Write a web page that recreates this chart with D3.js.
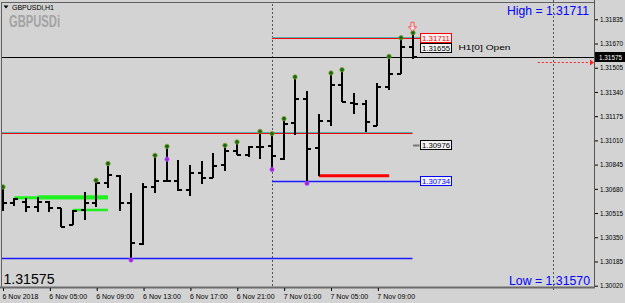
<!DOCTYPE html>
<html>
<head>
<meta charset="utf-8">
<script src="https://cdnjs.cloudflare.com/ajax/libs/d3/7.8.5/d3.min.js"></script>
<style>
  body { margin: 0; background: #d3d3d3; }
  svg { display: block; }
  text { font-family: "Liberation Sans", Arial, sans-serif; }
</style>
</head>
<body>
<div id="chart"></div>
<script>
// H1 bars, 6 Nov 01:00 .. 7 Nov 12:00
const opens  = [1.30600, 1.30581, 1.30592, 1.30554, 1.30588, 1.30547, 1.30431, 1.30535, 1.30581, 1.30717, 1.30767, 1.30581,
                1.30304, 1.30694, 1.30731, 1.30733, 1.30671, 1.30789, 1.30755, 1.30842, 1.30939, 1.30910, 1.30966, 1.30973,
                1.30882, 1.31130, 1.31289, 1.30955, 1.31143, 1.31386, 1.31266, 1.31255, 1.31107, 1.31375, 1.31459, 1.31647];
const highs  = [1.30683, 1.30615, 1.30619, 1.30626, 1.30599, 1.30547, 1.30535, 1.30660, 1.30728, 1.30842, 1.30774, 1.30649,
                1.30721, 1.30898, 1.30959, 1.30876, 1.30842, 1.30871, 1.30921, 1.30966, 1.30989, 1.30973, 1.31061, 1.31046,
                1.31148, 1.31432, 1.31345, 1.31187, 1.31459, 1.31481, 1.31334, 1.31284, 1.31398, 1.31572, 1.31699, 1.31733];
const lows   = [1.30531, 1.30563, 1.30522, 1.30524, 1.30524, 1.30422, 1.30431, 1.30467, 1.30558, 1.30683, 1.30531, 1.30195,
                1.30297, 1.30653, 1.30728, 1.30665, 1.30633, 1.30712, 1.30751, 1.30801, 1.30910, 1.30898, 1.30880, 1.30812,
                1.30876, 1.31046, 1.30710, 1.30767, 1.31109, 1.31272, 1.31191, 1.31068, 1.31107, 1.31352, 1.31459, 1.31563];
const closes = [1.30581, 1.30608, 1.30554, 1.30592, 1.30547, 1.30422, 1.30531, 1.30583, 1.30717, 1.30774, 1.30581, 1.30309,
                1.30690, 1.30731, 1.30733, 1.30671, 1.30789, 1.30755, 1.30837, 1.30939, 1.30912, 1.30966, 1.30966, 1.30905,
                1.31123, 1.31289, 1.30951, 1.31143, 1.31386, 1.31272, 1.31259, 1.31136, 1.31371, 1.31459, 1.31647, 1.31575];

const upMarks = [0, 8, 9, 13, 14, 19, 20, 22, 23, 24, 25, 28, 29, 33, 34, 35];
const downMarks = [[11, 1.30195], [14, 1.30882], [23, 1.30812], [26, 1.30717]];

const timeTickBars = [0, 4, 8, 12, 16, 20, 24, 28, 32];
const timeLabels = ["6 Nov 2018", "6 Nov 05:00", "6 Nov 09:00", "6 Nov 13:00", "6 Nov 17:00",
                    "6 Nov 21:00", "7 Nov 01:00", "7 Nov 05:00", "7 Nov 09:00"];
const priceTicks = [1.30020, 1.30185, 1.30350, 1.30515, 1.30680, 1.30845, 1.31010, 1.31175, 1.31340, 1.31505, 1.31670, 1.31835];

const lastPrice = 1.31575;
const dayHigh = 1.31711;
const dayLow = 1.31570;
const openPrice = 1.31655;
const daySeparator = 23;
const shiftBar = 47;
// [price, from bar, to bar]
const redLevels = [[1.31711, 23, 35.7], [1.31059, -0.3, 35]];
const blueLevels = [[1.30734, 23, 35.7], [1.30209, -0.3, 35]];
const greenLevels = [[1.30619, 1, 9, 3], [1.30622, 3, 9, 4], [1.30535, 6, 9, 2.5]];
const redBar = [1.30769, 27, 33];
const priceTags = [[1.31711, "#ff0000"], [1.31655, "#000000"], [1.30976, "#000000"], [1.30734, "#0000ff"]];
const askLine = [1.31545, 45.7];

const W = 625, H = 303;
const plotRight = 594, plotBottom = 287;

const x = d3.scaleLinear().domain([0, 35]).range([2.5, 412.5]);
const y = d3.scaleLinear().domain([1.30020, 1.31835]).range([285.7, 19.3]);
const fmt = d3.format(".5f");
const rx = i => Math.round(x(i)) + 0.5;
const ry = p => Math.round(y(p)) + 0.5;

const svg = d3.select("#chart").append("svg").attr("width", W).attr("height", H);
svg.append("rect").attr("width", W).attr("height", H).attr("fill", "#d3d3d3");

const plot = svg.append("g");
plot.append("clipPath").attr("id", "clip").append("rect")
  .attr("x", 1).attr("y", 2).attr("width", plotRight - 1).attr("height", plotBottom - 2);
const g = plot.append("g").attr("clip-path", "url(#clip)");

// separators
g.append("line").attr("x1", rx(daySeparator)).attr("x2", rx(daySeparator)).attr("y1", 0).attr("y2", plotBottom)
  .attr("stroke", "#555").attr("stroke-dasharray", "2,2");
svg.append("line").attr("x1", rx(shiftBar)).attr("x2", rx(shiftBar)).attr("y1", 0).attr("y2", plotBottom + 3)
  .attr("stroke", "#555").attr("stroke-dasharray", "2,2");

// levels
redLevels.forEach(([p, a, b]) => {
  g.append("line").attr("x1", x(a)).attr("x2", x(b)).attr("y1", ry(p) - 1).attr("y2", ry(p) - 1)
    .attr("stroke", "#4fb8b8").attr("stroke-width", 1);
  g.append("line").attr("x1", x(a)).attr("x2", x(b)).attr("y1", ry(p)).attr("y2", ry(p))
    .attr("stroke", "#ff0000").attr("stroke-width", 1);
});
blueLevels.forEach(([p, a, b]) => {
  g.append("line").attr("x1", x(a)).attr("x2", x(b)).attr("y1", ry(p)).attr("y2", ry(p))
    .attr("stroke", "#1a1aff").attr("stroke-width", 1.4);
});
greenLevels.forEach(([p, a, b, w]) => {
  g.append("line").attr("x1", x(a)).attr("x2", x(b)).attr("y1", y(p)).attr("y2", y(p))
    .attr("stroke", "#1ff01f").attr("stroke-width", w);
});
g.append("line").attr("x1", x(redBar[1])).attr("x2", x(redBar[2])).attr("y1", y(redBar[0])).attr("y2", y(redBar[0]))
  .attr("stroke", "#ff0000").attr("stroke-width", 3);

// last price line
g.append("line").attr("x1", 0).attr("x2", plotRight).attr("y1", ry(lastPrice)).attr("y2", ry(lastPrice))
  .attr("stroke", "#000").attr("stroke-width", 1);

// ask dotted line with arrow
svg.append("line").attr("x1", x(askLine[1])).attr("x2", plotRight - 3).attr("y1", ry(askLine[0])).attr("y2", ry(askLine[0]))
  .attr("stroke", "#ff2020").attr("stroke-dasharray", "2,2");
svg.append("path")
  .attr("d", `M${plotRight - 4},${ry(askLine[0]) - 3}L${plotRight},${ry(askLine[0])}L${plotRight - 4},${ry(askLine[0]) + 3}Z`)
  .attr("fill", "#ff2020");

// bars
const bars = opens.map((o, i) => ({ i, o, h: highs[i], l: lows[i], c: closes[i] }));
const bg = g.append("g").attr("stroke", "#000").attr("stroke-width", 2).attr("shape-rendering", "crispEdges");
bg.selectAll("line.hl").data(bars).join("line").attr("class", "hl")
  .attr("x1", d => Math.round(x(d.i))).attr("x2", d => Math.round(x(d.i)))
  .attr("y1", d => y(d.h)).attr("y2", d => y(d.l));
bg.selectAll("line.o").data(bars).join("line").attr("class", "o")
  .attr("x1", d => Math.round(x(d.i)) - 4).attr("x2", d => Math.round(x(d.i)))
  .attr("y1", d => Math.round(y(d.o))).attr("y2", d => Math.round(y(d.o)));
bg.selectAll("line.c").data(bars).join("line").attr("class", "c")
  .attr("x1", d => Math.round(x(d.i))).attr("x2", d => Math.round(x(d.i)) + 4)
  .attr("y1", d => Math.round(y(d.c))).attr("y2", d => Math.round(y(d.c)));

// markers
g.selectAll("circle.up").data(upMarks).join("circle").attr("class", "up")
  .attr("cx", i => Math.round(x(i))).attr("cy", i => y(highs[i]) - 1.5).attr("r", 2.2)
  .attr("fill", "#0b6b14").attr("stroke", "#8a9a2a").attr("stroke-width", 0.8);
g.selectAll("circle.dn").data(downMarks).join("circle").attr("class", "dn")
  .attr("cx", d => Math.round(x(d[0]))).attr("cy", d => y(d[1])).attr("r", 2.2)
  .attr("fill", "#a020e0").attr("stroke", "#c060ff").attr("stroke-width", 0.6);

// hollow arrow over the last bar
const ax = Math.round(x(35)) - 0.5, ay = y(highs[35]) - 12;
g.append("path")
  .attr("d", `M${ax - 1.5},${ay}h3v4.5h2.5l-4,4.5l-4,-4.5h2.5z`)
  .attr("fill", "#fbe0e0").attr("stroke", "#ff4040").attr("stroke-width", 0.9);

// price tags (stacked so they do not overlap)
g.append("line").attr("x1", x(35.05)).attr("x2", x(35.6)).attr("y1", ry(1.30976)).attr("y2", ry(1.30976))
  .attr("stroke", "#777").attr("stroke-width", 2);
let prevBottom = -Infinity;
priceTags.forEach(([p, col]) => {
  const tx = Math.round(x(35.6)) + 0.5;
  let ty = Math.round(y(p)) - 4.5;
  if (ty < prevBottom + 1) ty = prevBottom + 1;
  prevBottom = ty + 9;
  g.append("rect").attr("x", tx).attr("y", ty).attr("width", 31).attr("height", 9)
    .attr("fill", "#f2f2f2").attr("stroke", col).attr("stroke-width", 1);
  g.append("text").attr("x", tx + 1.5).attr("y", ty + 7.8).attr("font-size", 7.8).attr("fill", col)
    .attr("textLength", 28).attr("lengthAdjust", "spacingAndGlyphs").text(fmt(p));
});
g.append("text").attr("x", x(35.6) + 39).attr("y", y(openPrice) + 4)
  .attr("font-family", "'Liberation Mono', monospace").attr("font-size", 8).attr("fill", "#000")
  .attr("textLength", 52).attr("lengthAdjust", "spacingAndGlyphs").text("H1[0] Open");

// frame
svg.append("line").attr("x1", 1.5).attr("x2", 1.5).attr("y1", 2).attr("y2", plotBottom).attr("stroke", "#606060");
svg.append("line").attr("x1", 1).attr("x2", plotRight).attr("y1", 2.5).attr("y2", 2.5).attr("stroke", "#606060");
svg.append("line").attr("x1", plotRight + 0.5).attr("x2", plotRight + 0.5).attr("y1", 0).attr("y2", plotBottom + 1).attr("stroke", "#555");
svg.append("line").attr("x1", 0).attr("x2", plotRight + 1).attr("y1", plotBottom + 0.5).attr("y2", plotBottom + 0.5)
  .attr("stroke", "#6a6a6a").attr("stroke-width", 2);

// price axis
const yAxis = svg.append("g").attr("transform", `translate(${plotRight + 1},0)`)
  .call(d3.axisRight(y).tickValues(priceTicks).tickFormat(fmt).tickSize(3).tickPadding(2));
yAxis.select(".domain").remove();
yAxis.selectAll("text").attr("font-size", 7).attr("font-family", "'Liberation Sans', Arial, sans-serif")
  .attr("textLength", 23).attr("lengthAdjust", "spacingAndGlyphs");

// time axis
const xAxis = svg.append("g").attr("transform", `translate(0,${plotBottom + 1})`)
  .call(d3.axisBottom(x).tickValues(timeTickBars).tickFormat((d, i) => timeLabels[i]).tickSize(3).tickPadding(3));
xAxis.select(".domain").remove();
xAxis.selectAll("line").attr("transform", "translate(0.5,0)");
xAxis.selectAll("text").attr("font-size", 7).attr("text-anchor", "start").attr("x", -0.5)
  .attr("font-family", "'Liberation Sans', Arial, sans-serif");

// last price box on the axis
svg.append("rect").attr("x", plotRight + 1).attr("y", ry(lastPrice) - 5.5).attr("width", W - plotRight).attr("height", 10)
  .attr("fill", "#000");
svg.append("text").attr("x", plotRight + 5).attr("y", ry(lastPrice) + 2.5).attr("font-size", 7).attr("fill", "#fff")
  .attr("textLength", 23).attr("lengthAdjust", "spacingAndGlyphs").text(fmt(lastPrice));

// titles
svg.append("path").attr("d", "M3.5,5.5h5l-2.5,3z").attr("fill", "#000");
svg.append("text").attr("x", 12).attr("y", 10).attr("font-size", 7).attr("fill", "#000").text("GBPUSDi,H1");
svg.append("text").attr("x", 9).attr("y", 27).attr("font-size", 16).attr("font-weight", "bold").attr("fill", "#a3a3a3")
  .attr("textLength", 51).attr("lengthAdjust", "spacingAndGlyphs").text("GBPUSDi");
svg.append("text").attr("x", 507).attr("y", 15).attr("font-size", 13).attr("fill", "#0000ff")
  .attr("textLength", 82).attr("lengthAdjust", "spacingAndGlyphs").text("High = " + fmt(dayHigh));
svg.append("text").attr("x", 509).attr("y", 285).attr("font-size", 13).attr("fill", "#0000ff")
  .attr("textLength", 81).attr("lengthAdjust", "spacingAndGlyphs").text("Low = " + fmt(dayLow));
svg.append("text").attr("x", 3.5).attr("y", 283.5).attr("font-size", 14).attr("fill", "#000")
  .attr("textLength", 51).attr("lengthAdjust", "spacingAndGlyphs").text(fmt(lastPrice));
</script>
</body>
</html>
